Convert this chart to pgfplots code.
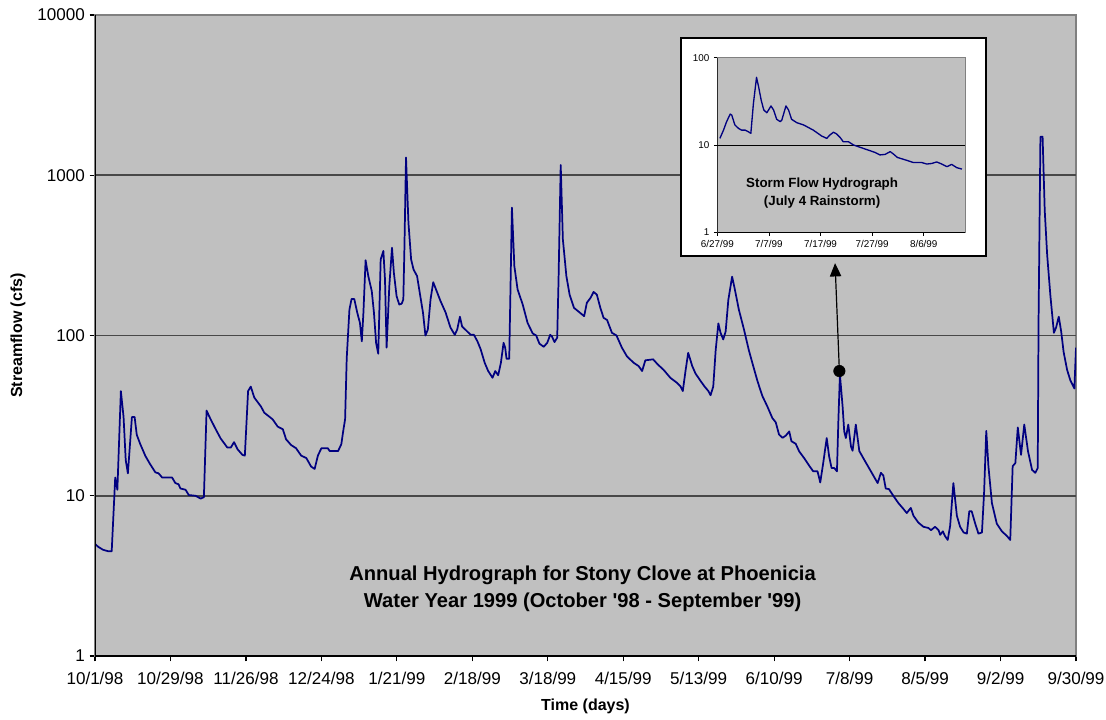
\documentclass[border=0pt]{standalone}
\usepackage{fontspec}
\setmainfont{Liberation Sans}
\usepackage{pgfplots}
\pgfplotsset{compat=1.18}
\usetikzlibrary{arrows.meta}
\definecolor{plotbg}{HTML}{C0C0C0}
\definecolor{navy}{HTML}{000080}
\definecolor{gridc}{HTML}{484848}
\definecolor{bordc}{HTML}{808080}

\pgfplotstableread{
day flow
0 5.0
1.2 4.8
3 4.6
5 4.5
6.2 4.5
7.5 13
8.3 10.9
9.6 45
10.6 31
11.4 16.7
12.2 13.8
12.8 19
13.7 31
14.7 31
15.5 24
16.8 21
18.7 17.7
20.5 15.7
22.4 14
23.6 13.8
24.9 13
28.6 13
29.8 12
31 11.8
31.7 11.1
33.6 10.9
34.8 10.1
37.3 10
39.2 9.6
40.4 9.8
41.4 34
42.9 30
44.8 26
46.6 22.8
49.1 20
50.4 20
51.6 21.6
52.9 19.5
54.7 18
55.6 17.8
56.8 45
57.8 48
59.1 41
61.6 36
62.8 33
65.9 30
67.8 27
69.7 26
70.9 22.5
72.8 20.7
74.6 19.8
76.5 17.8
78.4 17.2
80.2 15.2
81.5 14.7
82.7 17.8
84 19.8
86.4 19.8
87.1 19
90.2 19
91.4 21
92.2 26
92.8 30
93.4 72
94.4 145
95.2 169
96.2 169
97.3 139
98.3 120
99 92
99.6 139
100.4 295
101.4 235
102.7 189
103.5 139
104.3 90
105.1 77
106 298
107 337
107.6 224
108.2 84
109.2 203
110.2 353
110.9 246
111.9 176
112.9 156
113.8 158
114.4 168
114.8 345
115.4 1290
116.3 506
117.3 298
118.2 258
119.5 235
120.7 176
121.7 139
122.6 100
123.5 109
124.5 168
125.5 215
127 185
128.2 164
130.1 139
131.9 112
133.5 101
134.4 109
135.4 131
136.2 114
138.1 106
139.4 101
140.6 101
141.9 92
143.1 82
144.6 67.5
145.9 60
147.5 54.5
148.5 60
149.6 56.5
150.6 67.5
151.6 90
152.2 84
152.7 71.5
153.7 71.5
154.7 628
155.6 271
156.8 194
158.7 156
160.5 120
162.4 103
163.7 100
164.9 89
166.5 85
167.8 90
168.9 101
169.5 99
170.5 91
171.5 97
172 224
172.8 1160
173.6 398
174.9 235
176.1 180
177.7 149
179.2 142
181.5 132
182.5 160
183.9 172
185 187
186.2 180
187.5 149
188.7 129
190 125
191.8 104
193.5 100
195.5 84
197.4 74
199.9 67.5
201.7 64.5
203 60
204.2 70
207.1 71
208.8 66
211 61
213.5 54.4
216 50.6
217.3 48
218.1 45
219.1 60
220.1 78
221.6 64.5
222.8 58
224.7 52
226.2 48
227.6 45
228.4 42.4
229.4 48
230.3 81
231.3 119
232.1 104
233.1 94.5
234 106
235 167
236.4 233
237.3 198
238.9 145
240.8 109
242.6 81
243.9 67.5
245.8 52
247.6 42
249.5 36
251.3 30.6
252.6 28.7
253.8 24.1
255.1 23
256.3 23.7
257.6 25.2
258.4 21.9
260 21.1
261.3 18.9
263.1 17.2
265 15.4
266.5 14.2
268.1 14.2
269.1 12.1
270.2 16
271.5 22.9
272.4 17.6
273.3 14.9
274.3 14.9
275.3 14.2
275.8 28.5
276.4 57
277.4 36
278 25.2
278.6 22.9
279.5 27.8
280.5 20.3
281.1 19.1
282.3 27.8
283.6 19
285.4 16.8
287.9 14.2
290.4 12.0
291.6 13.9
292.5 13.4
293.4 11.1
294.6 11.0
296.2 10
298.1 9
299.9 8.3
301.2 7.8
302.7 8.4
303.7 7.5
305.5 6.8
307.4 6.4
309.2 6.3
310.2 6.1
311.7 6.4
313 6.1
313.6 5.7
314.6 6.0
315.4 5.6
316.4 5.3
317.3 6.5
318.5 12
319.8 7.5
321 6.4
322.3 5.9
323.5 5.8
324.4 8
325.3 8
326.6 6.7
327.8 5.8
329.1 5.9
329.9 10.5
330.7 25.4
331.5 15.3
332.8 9
334.6 6.7
336.5 6.0
338.4 5.6
339.6 5.3
340.5 15.3
341.5 16
342.4 26.7
343.6 18
344.8 27.8
346.2 18.9
347.7 14.5
348.9 13.9
349.8 14.9
350.1 122
350.8 1740
351.6 1740
352.4 600
353.3 318
354.5 177
355.8 104
356.6 112
357.6 131
358.5 106
359.4 79
360.7 61
361.9 52.5
363.4 46.7
364 84
}\annual

\pgfplotstableread{
d flow
0.5 11.9
1.2 14.8
1.8 18.5
2.5 22.6
2.8 22
3.4 17
4.1 15.5
4.7 14.8
5.4 14.8
6 14.2
6.5 13.6
7 30
7.6 59.5
8 46.5
8.5 32.7
9 25.2
9.6 23.4
10.4 28
10.9 25.2
11.5 19.7
12.2 18.5
12.5 19.3
13.3 28
13.8 25.2
14.4 19.7
15.4 18
16.7 17
18.6 14.8
20.2 12.7
21.2 11.9
21.8 13
22.5 14
23.1 13.4
23.8 12.2
24.4 10.9
25.4 10.9
26.4 10
27.7 9.4
29.6 8.6
30.6 8.2
31.5 7.7
32.5 7.8
33.5 8.4
34.1 7.9
34.9 7.2
36.1 6.85
38 6.3
39.6 6.3
40.6 6.05
41.6 6.15
42.5 6.4
43.5 6.05
44.5 5.65
45.4 6
46.4 5.5
47.4 5.3
}\storm

\begin{document}
\begin{tikzpicture}
\path[use as bounding box] (0pt,0pt) rectangle (829.5pt,539.25pt);
\begin{axis}[
  at={(71.25pt,47.25pt)}, anchor=south west,
  scale only axis, width=735.75pt, height=480.75pt,
  xmin=0, xmax=364, ymode=log, ymin=1, ymax=10000,
  axis background/.style={fill=plotbg},
  axis line style={draw=bordc, line width=1.2pt},
  xtick={0,28,...,364},
  xticklabels={10/1/98,10/29/98,11/26/98,12/24/98,1/21/99,2/18/99,3/18/99,4/15/99,5/13/99,6/10/99,7/8/99,8/5/99,9/2/99,9/30/99},
  ytick={1,10,100,1000,10000},
  yticklabels={1,10,100,1000,10000},
  yminorticks=false,
  extra y ticks={10,100,1000},
  extra y tick labels={},
  extra y tick style={ymajorgrids=true, major tick length=0pt},
  major grid style={draw=gridc, line width=1.15pt},
  tick align=outside, major tick length=4pt,
  tick style={black, line width=0.9pt},
  xtick pos=lower, ytick pos=lower,
  ticklabel style={font=\fontsize{12.8}{15}\selectfont, text=black},
  xticklabel style={yshift=-4.3pt},
  /pgf/number format/assume math mode=true,
  xlabel={Time (days)}, ylabel={Streamflow (cfs)},
  label style={font=\bfseries\fontsize{12}{14}\selectfont},
  xlabel style={at={(axis description cs:0.5,-0.078)}, anchor=center},
  ylabel style={at={(axis description cs:-0.0785,0.5)}, anchor=center},
]
\addplot[navy, line width=1.3pt, line join=round] table[x=day,y=flow] {\annual};
\addplot[only marks, mark=*, mark size=4.3pt, black] coordinates {(276.2,60)};
\draw[black, line width=0.9pt, -{Triangle[length=10pt,width=8.5pt]}] (axis cs:276.2,60) -- (axis cs:274.6,283);
\draw[black, line width=1.2pt] (rel axis cs:0,1) -- (rel axis cs:0,0) -- (rel axis cs:1,0);
\node[font=\bfseries\fontsize{15.1}{20.3}\selectfont, align=center] at (rel axis cs:0.497,0.105)
  {Annual Hydrograph for Stony Clove at Phoenicia\\Water Year 1999 (October \textquotesingle 98 - September \textquotesingle 99)};
\end{axis}
\draw[black, line width=1.6pt, fill=white] (510.525pt,347.25pt) rectangle (739.5pt,510.525pt);
\begin{axis}[
  at={(537.975pt,365.025pt)}, anchor=south west,
  scale only axis, width=185.8pt, height=130.95pt,
  xmin=0, xmax=48, ymode=log, ymin=1, ymax=100,
  axis background/.style={fill=plotbg},
  axis line style={draw=bordc, line width=0.8pt},
  xtick={0,10,20,30,40},
  xticklabels={6/27/99,7/7/99,7/17/99,7/27/99,8/6/99},
  ytick={1,10,100}, yticklabels={1,10,100},
  yminorticks=false,
  extra y ticks={10}, extra y tick labels={},
  extra y tick style={ymajorgrids=true, major tick length=0pt},
  major grid style={draw=black, line width=0.6pt},
  tick align=outside, major tick length=2.5pt,
  tick style={black, line width=0.6pt},
  xtick pos=lower, ytick pos=lower,
  ticklabel style={font=\fontsize{7.4}{9}\selectfont, text=black},
  /pgf/number format/assume math mode=true,
]
\addplot[navy, line width=1pt, line join=round] table[x=d,y=flow] {\storm};
\draw[black, line width=0.8pt] (rel axis cs:0,1) -- (rel axis cs:0,0) -- (rel axis cs:1,0);
\node[font=\bfseries\fontsize{10}{13.5}\selectfont, align=center] at (rel axis cs:0.423,0.225)
  {Storm Flow Hydrograph\\(July 4 Rainstorm)};
\end{axis}
\end{tikzpicture}
\end{document}
